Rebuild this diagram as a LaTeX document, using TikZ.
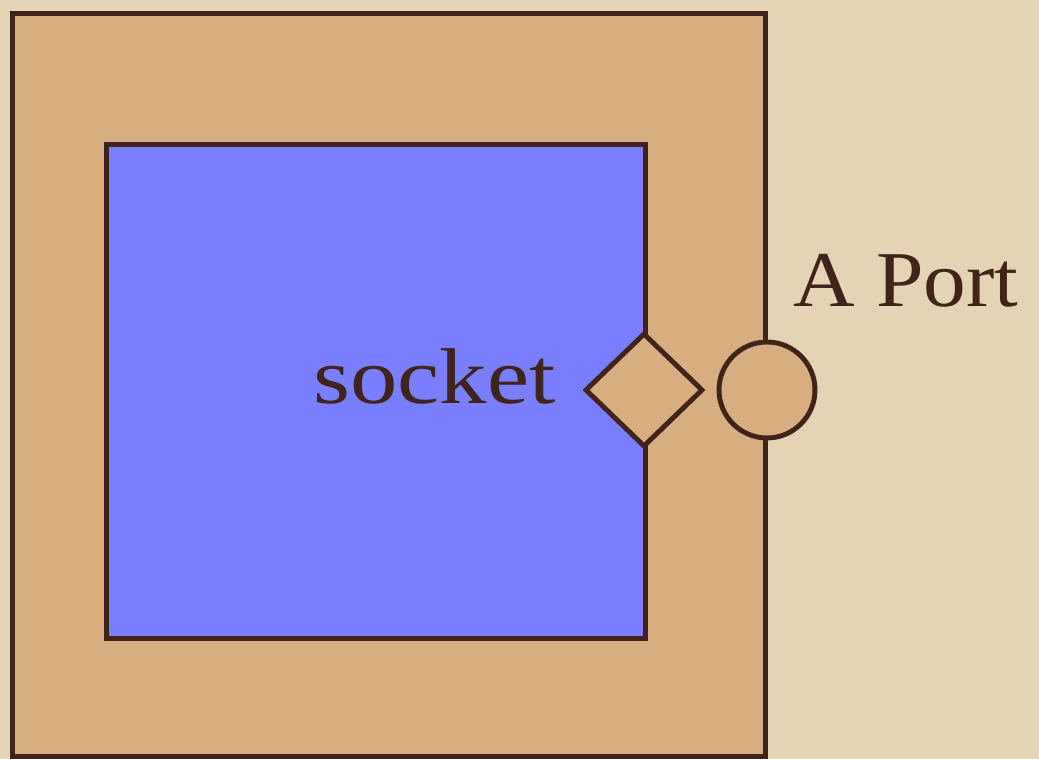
\documentclass[tikz,border=0pt]{standalone}
\usepackage{fontspec}
\setmainfont{Liberation Serif}
\newfontfamily\tagfont[FakeStretch=1.2]{Liberation Serif}
\newfontfamily\porttagfont[FakeStretch=1.08]{Liberation Serif}
\usetikzlibrary{shapes.geometric}
\definecolor{paperBg}{HTML}{E3D4B6}
\definecolor{tanFill}{HTML}{D8AE80}
\definecolor{partBlue}{HTML}{7A7FFF}
\definecolor{inkBrown}{HTML}{40231A}

\begin{document}
\begin{tikzpicture}[
    x=0.02cm, y=-0.02cm,
    compbox/.style={
        draw=inkBrown, fill=tanFill, line width=2.8pt,
        inner sep=0pt, minimum width=15.08cm, minimum height=14.88cm
    },
    partbox/.style={
        draw=inkBrown, fill=partBlue, line width=2.8pt,
        inner sep=0pt, minimum width=10.8cm, minimum height=9.9cm
    },
    socketshape/.style={
        diamond, draw=inkBrown, fill=tanFill, line width=2.8pt,
        inner sep=0pt, minimum width=2.36cm, minimum height=2.28cm
    },
    portshape/.style={
        circle, draw=inkBrown, fill=tanFill, line width=2.8pt,
        inner sep=0pt, minimum size=1.92cm
    },
    tag/.style={text=inkBrown, font=\tagfont\fontsize{45}{50}\selectfont, inner sep=0pt},
    porttag/.style={tag, font=\porttagfont\fontsize{45}{50}\selectfont},
]

% background
\fill[paperBg] (0,0) rectangle (1039,759);
\useasboundingbox (0,0) rectangle (1039,759);

% component and its part
\node[compbox] (comp) at (389,385) {};
\node[partbox] (part) at (376,391.5) {};

% socket on the part, port on the component
\node[socketshape] (sock) at (644,390) {};
\node[portshape] (port) at (767,390) {};

% labels
\node[tag, anchor=base east] (socklbl) at (556,404) {socket};
\node[porttag, anchor=base west] (portlbl) at (793,307) {A Port};

\end{tikzpicture}
\end{document}
